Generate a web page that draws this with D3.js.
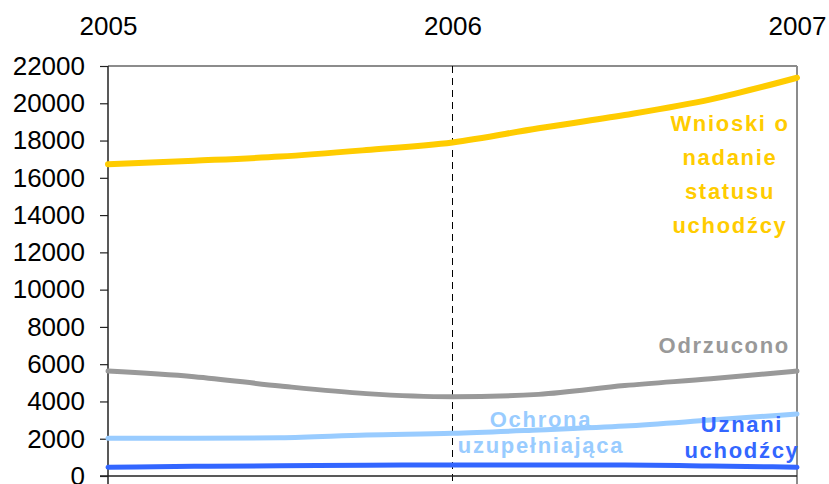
<!DOCTYPE html>
<html>
<head>
<meta charset="utf-8">
<script src="https://cdn.jsdelivr.net/npm/d3@7"></script>
<style>
  body { margin: 0; background: #fff; }
  svg { display: block; font-family: "Liberation Sans", Arial, sans-serif; }
  .lbl { font-weight: bold; letter-spacing: 1.7px; font-size: 22px; }
</style>
</head>
<body>
<svg id="chart" width="829" height="484"></svg>
<script>
// quarterly points, 2005 to 2007
var periods = [2005, 2005.25, 2005.5, 2005.75, 2006, 2006.25, 2006.5, 2006.75, 2007];
var yearTicks = [2005, 2006, 2007];
var valueTicks = [0, 2000, 4000, 6000, 8000, 10000, 12000, 14000, 16000, 18000, 20000, 22000];

var wnioski = [16730, 16920, 17140, 17490, 17900, 18660, 19370, 20210, 21370];
var odrzucono = [5630, 5330, 4830, 4420, 4250, 4380, 4850, 5220, 5630];
var ochrona = [2020, 2020, 2050, 2200, 2290, 2470, 2680, 3000, 3330];
var uznani = [470, 520, 550, 580, 590, 590, 590, 540, 470];

var series = [
    { name: "wnioski", values: wnioski, color: "#ffcc00", width: 6 },
    { name: "odrzucono", values: odrzucono, color: "#999999", width: 5 },
    { name: "ochrona", values: ochrona, color: "#99ccff", width: 5 },
    { name: "uznani", values: uznani, color: "#3366ff", width: 5 }
];

var svg = d3.select("#chart");
var plot = { left: 108, right: 797, top: 66, bottom: 476 };

var x = d3.scaleLinear().domain([2005, 2007]).range([plot.left, plot.right]);
var y = d3.scaleLinear().domain([0, 22000]).range([plot.bottom, plot.top]);

// frame: grey top and right border
svg.append("line")
    .attr("x1", plot.left).attr("x2", plot.right).attr("y1", plot.top).attr("y2", plot.top)
    .attr("stroke", "#8c8c8c").attr("stroke-width", 2);
svg.append("line")
    .attr("x1", plot.right).attr("x2", plot.right).attr("y1", plot.top).attr("y2", 484)
    .attr("stroke", "#8c8c8c").attr("stroke-width", 2);

// dashed marker at 2006
svg.append("line")
    .attr("x1", x(2006)).attr("x2", x(2006)).attr("y1", plot.top).attr("y2", 484)
    .attr("stroke", "#000").attr("stroke-width", 1)
    .attr("stroke-dasharray", "7,5");

// bottom base line
svg.append("line")
    .attr("x1", 100).attr("x2", plot.right).attr("y1", plot.bottom).attr("y2", plot.bottom)
    .attr("stroke", "#222").attr("stroke-width", 1.5);

// y axis
var yAxis = svg.append("g")
    .attr("transform", "translate(" + plot.left + ",0)")
    .call(d3.axisLeft(y).tickValues(valueTicks).tickSize(8).tickPadding(15).tickFormat(d3.format("d")));
yAxis.select(".domain").remove();
yAxis.selectAll("line").attr("stroke", "#222").attr("stroke-width", 1.2);
yAxis.selectAll("text").attr("font-size", 26).attr("fill", "#000")
    .attr("font-family", "Liberation Sans, Arial, sans-serif");
svg.append("line")
    .attr("x1", plot.left).attr("x2", plot.left).attr("y1", plot.top).attr("y2", 484)
    .attr("stroke", "#222").attr("stroke-width", 1.5);

// year labels across the top
var xAxis = svg.append("g")
    .attr("transform", "translate(0," + plot.top + ")")
    .call(d3.axisTop(x).tickValues(yearTicks).tickSize(0).tickPadding(31).tickFormat(d3.format("d")));
xAxis.select(".domain").remove();
xAxis.selectAll("text").attr("font-size", 26).attr("fill", "#000")
    .attr("font-family", "Liberation Sans, Arial, sans-serif");

// lines
var line = d3.line()
    .x(function (d, i) { return x(periods[i]); })
    .y(function (d) { return y(d); })
    .curve(d3.curveMonotoneX);

svg.selectAll(".series")
    .data(series)
    .enter().append("path")
    .attr("class", "series")
    .attr("d", function (d) { return line(d.values); })
    .attr("fill", "none")
    .attr("stroke", function (d) { return d.color; })
    .attr("stroke-width", function (d) { return d.width; })
    .attr("stroke-linecap", "round");

// labels
function label(lines, cx, y0, step, color, anchor) {
    var t = svg.append("text").attr("class", "lbl").attr("fill", color)
        .attr("text-anchor", anchor);
    lines.forEach(function (s, i) {
        t.append("tspan").attr("x", cx).attr("y", y0 + i * step).text(s);
    });
}
label(["Wnioski o", "nadanie", "statusu", "uchodźcy"], 730, 131, 34, "#ffcc00", "middle");
label(["Odrzucono"], 790, 353, 0, "#999999", "end");
label(["Ochrona", "uzupełniająca"], 541, 427, 26, "#99ccff", "middle");
label(["Uznani", "uchodźcy"], 742, 432, 26, "#3366ff", "middle");
</script>
</body>
</html>
